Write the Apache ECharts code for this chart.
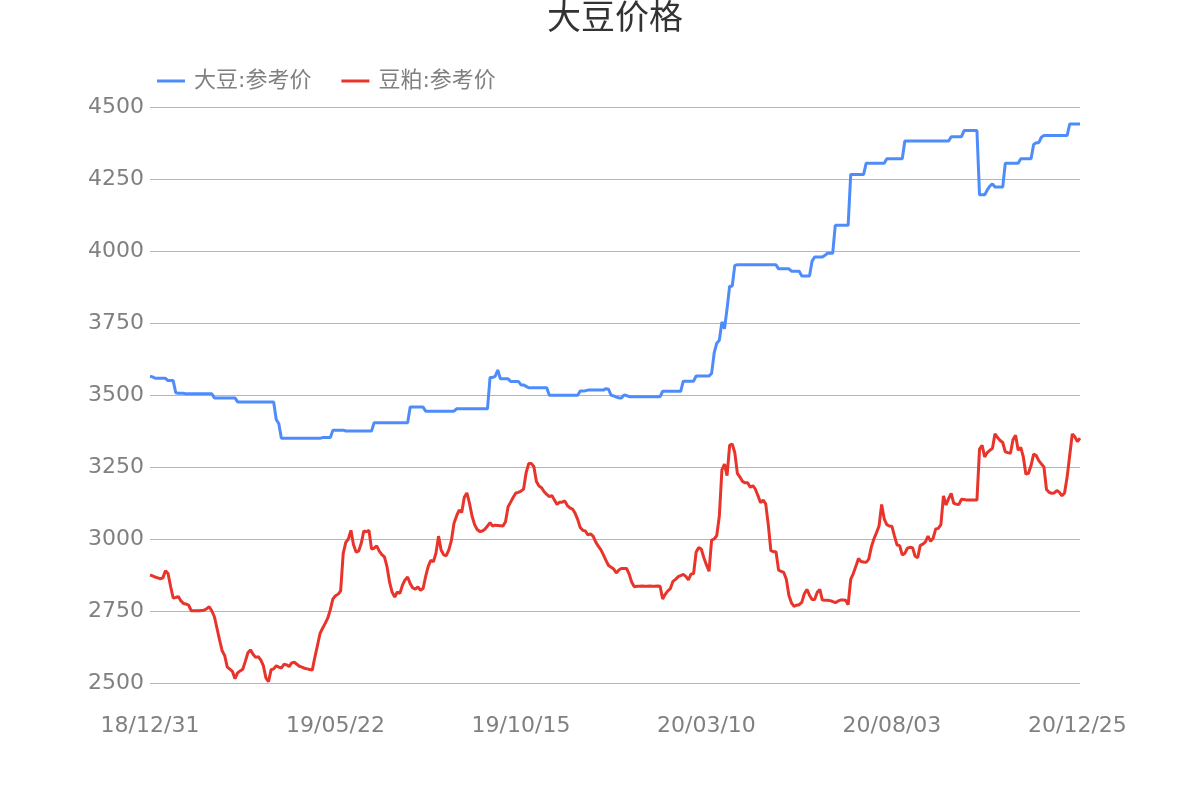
<!DOCTYPE html>
<html>
<head>
<meta charset="utf-8">
<script src="https://cdn.jsdelivr.net/npm/echarts@6/dist/echarts.min.js"></script>
<style>html,body{margin:0;padding:0;background:#fff;}#c{width:1200px;height:800px;}</style>
</head>
<body>
<div id="c"></div>
<script>
var titleText = '大豆价格';
var seriesNames = ['大豆:参考价', '豆粕:参考价'];
var yTicks = { min: 2500, max: 4500, interval: 250 };
var xLabelEvery = 72;

var dates = [
'18/12/31','19/01/02','19/01/04','19/01/06','19/01/08','19/01/10','19/01/12','19/01/14','19/01/16','19/01/18',
'19/01/20','19/01/22','19/01/24','19/01/26','19/01/28','19/01/30','19/02/01','19/02/03','19/02/05','19/02/07',
'19/02/09','19/02/11','19/02/13','19/02/15','19/02/17','19/02/19','19/02/21','19/02/23','19/02/25','19/02/27',
'19/03/01','19/03/03','19/03/05','19/03/07','19/03/09','19/03/11','19/03/13','19/03/15','19/03/17','19/03/19',
'19/03/21','19/03/23','19/03/25','19/03/27','19/03/29','19/03/31','19/04/02','19/04/04','19/04/06','19/04/08',
'19/04/10','19/04/12','19/04/14','19/04/16','19/04/18','19/04/20','19/04/22','19/04/24','19/04/26','19/04/28',
'19/04/30','19/05/02','19/05/04','19/05/06','19/05/08','19/05/10','19/05/12','19/05/14','19/05/16','19/05/18',
'19/05/20','19/05/21','19/05/22','19/05/24','19/05/26','19/05/28','19/05/30','19/06/01','19/06/03','19/06/05',
'19/06/07','19/06/09','19/06/11','19/06/13','19/06/15','19/06/17','19/06/19','19/06/21','19/06/23','19/06/25',
'19/06/27','19/06/29','19/07/01','19/07/03','19/07/05','19/07/07','19/07/09','19/07/11','19/07/13','19/07/15',
'19/07/17','19/07/19','19/07/21','19/07/23','19/07/25','19/07/27','19/07/29','19/07/31','19/08/02','19/08/04',
'19/08/06','19/08/08','19/08/10','19/08/12','19/08/14','19/08/16','19/08/18','19/08/20','19/08/22','19/08/24',
'19/08/26','19/08/28','19/08/30','19/09/01','19/09/03','19/09/05','19/09/07','19/09/09','19/09/11','19/09/13',
'19/09/15','19/09/17','19/09/19','19/09/21','19/09/23','19/09/25','19/09/27','19/09/29','19/10/01','19/10/03',
'19/10/05','19/10/07','19/10/09','19/10/12','19/10/15','19/10/17','19/10/19','19/10/21','19/10/23','19/10/25',
'19/10/27','19/10/29','19/10/31','19/11/02','19/11/04','19/11/06','19/11/08','19/11/10','19/11/12','19/11/14',
'19/11/16','19/11/18','19/11/20','19/11/22','19/11/24','19/11/26','19/11/28','19/11/30','19/12/02','19/12/04',
'19/12/06','19/12/08','19/12/10','19/12/12','19/12/14','19/12/16','19/12/18','19/12/20','19/12/22','19/12/24',
'19/12/26','19/12/28','19/12/30','20/01/01','20/01/03','20/01/05','20/01/07','20/01/09','20/01/11','20/01/13',
'20/01/15','20/01/17','20/01/19','20/01/21','20/01/23','20/01/25','20/01/27','20/01/29','20/01/31','20/02/02',
'20/02/04','20/02/06','20/02/08','20/02/10','20/02/12','20/02/14','20/02/16','20/02/18','20/02/20','20/02/22',
'20/02/24','20/02/26','20/02/28','20/03/01','20/03/04','20/03/07','20/03/10','20/03/12','20/03/14','20/03/16',
'20/03/18','20/03/20','20/03/22','20/03/24','20/03/26','20/03/28','20/03/30','20/04/01','20/04/03','20/04/05',
'20/04/07','20/04/09','20/04/11','20/04/13','20/04/15','20/04/17','20/04/19','20/04/21','20/04/23','20/04/25',
'20/04/27','20/04/29','20/05/01','20/05/03','20/05/05','20/05/07','20/05/09','20/05/11','20/05/13','20/05/15',
'20/05/17','20/05/19','20/05/21','20/05/23','20/05/25','20/05/27','20/05/29','20/05/31','20/06/02','20/06/04',
'20/06/06','20/06/08','20/06/10','20/06/12','20/06/14','20/06/16','20/06/18','20/06/20','20/06/22','20/06/24',
'20/06/26','20/06/28','20/06/30','20/07/02','20/07/04','20/07/06','20/07/08','20/07/10','20/07/12','20/07/14',
'20/07/16','20/07/18','20/07/20','20/07/22','20/07/24','20/07/26','20/07/28','20/07/31','20/08/03','20/08/05',
'20/08/07','20/08/09','20/08/11','20/08/13','20/08/15','20/08/17','20/08/19','20/08/21','20/08/23','20/08/25',
'20/08/27','20/08/29','20/08/31','20/09/02','20/09/04','20/09/06','20/09/08','20/09/10','20/09/12','20/09/14',
'20/09/16','20/09/18','20/09/20','20/09/22','20/09/24','20/09/26','20/09/28','20/09/30','20/10/02','20/10/04',
'20/10/06','20/10/08','20/10/10','20/10/12','20/10/14','20/10/16','20/10/18','20/10/20','20/10/22','20/10/24',
'20/10/26','20/10/28','20/10/30','20/11/01','20/11/03','20/11/05','20/11/07','20/11/09','20/11/11','20/11/13',
'20/11/15','20/11/17','20/11/19','20/11/21','20/11/23','20/11/25','20/11/27','20/11/29','20/12/01','20/12/03',
'20/12/05','20/12/07','20/12/09','20/12/11','20/12/13','20/12/15','20/12/17','20/12/19','20/12/21','20/12/23',
'20/12/25','20/12/28'
];

var soybean = [
3565,3563,3558,3558,3558,3558,3558,3550,3550,3550,
3508,3506,3506,3506,3504,3504,3504,3504,3504,3504,
3504,3504,3504,3504,3504,3490,3490,3490,3490,3490,
3490,3490,3490,3490,3476,3476,3476,3476,3476,3476,
3476,3476,3476,3476,3476,3476,3476,3476,3476,3415,
3400,3350,3350,3350,3350,3350,3350,3350,3350,3350,
3350,3350,3350,3350,3350,3350,3350,3352,3352,3352,
3352,3378,3378,3378,3378,3378,3375,3375,3375,3375,
3375,3375,3375,3375,3375,3375,3375,3404,3404,3404,
3404,3404,3404,3404,3404,3404,3404,3404,3404,3404,
3404,3458,3458,3458,3458,3458,3458,3444,3444,3444,
3444,3444,3444,3444,3444,3444,3444,3444,3444,3452,
3452,3452,3452,3452,3452,3452,3452,3452,3452,3452,
3452,3452,3561,3561,3565,3587,3556,3556,3556,3556,
3547,3547,3547,3547,3535,3535,3530,3525,3525,3525,
3525,3525,3525,3525,3525,3499,3499,3499,3499,3499,
3499,3499,3499,3499,3499,3499,3499,3514,3514,3515,
3517,3517,3517,3517,3517,3517,3517,3522,3520,3499,
3497,3493,3490,3490,3500,3498,3494,3494,3494,3494,
3494,3494,3494,3494,3494,3494,3494,3494,3494,3513,
3513,3513,3513,3513,3513,3513,3513,3548,3548,3548,
3548,3548,3566,3566,3566,3566,3566,3566,3575,3646,
3680,3690,3754,3730,3800,3878,3878,3950,3952,3952,
3952,3952,3952,3952,3952,3952,3952,3952,3952,3952,
3952,3952,3952,3952,3938,3938,3938,3938,3938,3930,
3930,3930,3930,3913,3913,3913,3913,3965,3979,3979,
3979,3979,3985,3992,3992,3992,4089,4089,4089,4089,
4089,4089,4266,4266,4266,4266,4266,4266,4305,4305,
4305,4305,4305,4305,4305,4305,4320,4320,4320,4320,
4320,4320,4320,4382,4382,4382,4382,4382,4382,4382,
4382,4382,4382,4382,4382,4382,4382,4382,4382,4382,
4382,4397,4397,4397,4397,4397,4418,4418,4418,4418,
4418,4418,4195,4195,4195,4212,4225,4233,4222,4222,
4222,4222,4305,4305,4305,4305,4305,4305,4320,4320,
4320,4320,4320,4370,4376,4376,4395,4401,4401,4401,
4401,4401,4401,4401,4401,4401,4401,4441,4441,4441,
4441,4441
];

var soymeal = [
2875,2872,2868,2865,2862,2865,2890,2880,2835,2795,
2797,2800,2785,2776,2774,2770,2751,2751,2751,2751,
2752,2753,2758,2765,2750,2730,2690,2650,2612,2595,
2555,2548,2540,2515,2535,2542,2548,2575,2605,2615,
2600,2589,2591,2580,2560,2518,2505,2546,2549,2560,
2555,2552,2565,2563,2557,2570,2572,2565,2558,2555,
2551,2549,2547,2545,2590,2630,2672,2690,2707,2725,
2755,2792,2803,2808,2820,2950,2988,3000,3030,2980,
2955,2958,2985,3028,3025,3030,2965,2968,2976,2958,
2946,2938,2904,2850,2815,2798,2816,2811,2840,2858,
2868,2845,2830,2826,2834,2822,2828,2870,2905,2926,
2921,2951,3010,2962,2945,2942,2962,2995,3055,3080,
3100,3092,3145,3160,3125,3080,3050,3033,3026,3028,
3034,3045,3057,3045,3048,3047,3046,3045,3060,3112,
3128,3145,3160,3162,3166,3173,3230,3262,3262,3252,
3200,3184,3178,3164,3155,3147,3151,3135,3120,3128,
3128,3132,3116,3108,3104,3090,3068,3040,3030,3028,
3014,3018,3010,2990,2975,2963,2945,2926,2908,2902,
2896,2882,2892,2898,2898,2898,2878,2850,2834,2836,
2836,2837,2836,2836,2837,2836,2836,2837,2836,2792,
2808,2820,2828,2853,2860,2869,2873,2877,2870,2858,
2878,2880,2955,2970,2965,2935,2910,2888,2996,3000,
3012,3080,3240,3260,3220,3325,3330,3300,3228,3215,
3200,3195,3195,3180,3185,3173,3150,3126,3135,3122,
3050,2960,2956,2956,2892,2888,2884,2860,2805,2778,
2766,2770,2772,2780,2810,2825,2805,2790,2790,2815,
2825,2788,2787,2787,2786,2783,2779,2784,2788,2788,
2787,2772,2860,2880,2905,2932,2922,2920,2919,2930,
2972,3000,3022,3045,3120,3070,3050,3045,3044,3010,
2979,2977,2945,2950,2968,2971,2970,2940,2935,2978,
2982,2990,3010,2992,3003,3035,3037,3050,3150,3118,
3140,3158,3124,3121,3120,3138,3137,3135,3135,3135,
3135,3135,3312,3325,3285,3300,3308,3314,3365,3352,
3342,3335,3303,3300,3298,3345,3360,3308,3318,3285,
3225,3228,3255,3295,3290,3272,3261,3250,3172,3162,
3159,3160,3168,3162,3150,3160,3215,3290,3365,3355,
3338,3350
];

var FONT = "'DejaVu Sans', 'Noto Sans CJK SC', sans-serif";
var chart = echarts.init(document.getElementById('c'));
chart.setOption({
  backgroundColor: '#ffffff',
  animation: false,
  textStyle: { fontFamily: FONT },
  title: {
    text: titleText,
    left: 542,
    top: -2,
    textStyle: { fontSize: 34, fontWeight: 'normal', color: '#333333', fontFamily: FONT }
  },
  legend: {
    left: 152,
    top: 65,
    icon: 'rect',
    itemWidth: 28,
    itemHeight: 3,
    itemGap: 30,
    textStyle: { fontSize: 22, color: '#808080', fontFamily: FONT, padding: [0, 0, 0, 4] },
    data: seriesNames
  },
  grid: { left: 150, right: 120, top: 107, bottom: 117, containLabel: false },
  xAxis: {
    type: 'category',
    data: dates,
    boundaryGap: false,
    axisLine: { show: false },
    axisTick: { show: false },
    axisLabel: {
      interval: function (idx) { return idx % xLabelEvery === 0; },
      margin: 32, fontSize: 22, color: '#808080', fontFamily: FONT
    },
    splitLine: { show: false }
  },
  yAxis: {
    type: 'value',
    min: yTicks.min,
    max: yTicks.max,
    interval: yTicks.interval,
    axisLine: { show: false },
    axisTick: { show: false },
    axisLabel: { margin: 6, fontSize: 22, color: '#808080', fontFamily: FONT, formatter: function (v) { return String(v); } },
    splitLine: { lineStyle: { color: '#b5b5b5', width: 1 } }
  },
  series: [
    {
      name: seriesNames[0], type: 'line', data: soybean, symbol: 'none', clip: false,
      itemStyle: { color: '#4f8cfb' }, lineStyle: { color: '#4f8cfb', width: 3 }
    },
    {
      name: seriesNames[1], type: 'line', data: soymeal, symbol: 'none', clip: false,
      itemStyle: { color: '#e8342b' }, lineStyle: { color: '#e8342b', width: 3 }
    }
  ]
});
</script>
</body>
</html>
